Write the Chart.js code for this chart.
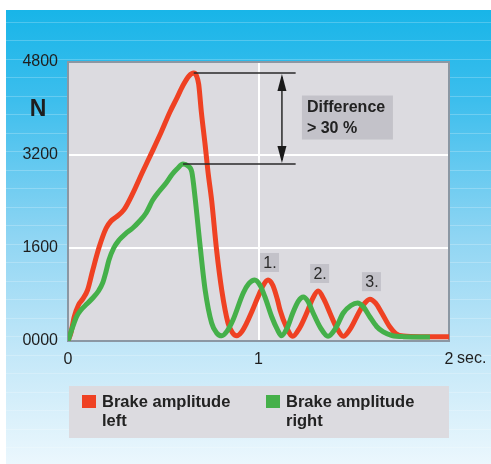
<!DOCTYPE html>
<html>
<head>
<meta charset="utf-8">
<script src="https://cdn.jsdelivr.net/npm/chart.js@4"></script>
<style>
  html, body { margin: 0; padding: 0; background: #fff; }
  canvas { display: block; }
</style>
</head>
<body>
<canvas id="brakeChart" width="491" height="464"></canvas>
<script>
// Data (time in seconds, force in N)
const timesLeft = [0, 0.016, 0.033, 0.055, 0.077, 0.103, 0.13, 0.164, 0.2, 0.225, 0.252, 0.294, 0.34, 0.39, 0.445, 0.49, 0.535, 0.57, 0.604, 0.635, 0.66, 0.675, 0.686, 0.70, 0.72, 0.735, 0.754, 0.78, 0.807, 0.84, 0.862, 0.886, 0.91, 0.938, 0.967, 0.997, 1.025, 1.05, 1.075, 1.10, 1.113, 1.145, 1.18, 1.215, 1.253, 1.283, 1.313, 1.343, 1.375, 1.41, 1.445, 1.48, 1.515, 1.55, 1.585, 1.615, 1.647, 1.69, 1.72, 1.76, 1.85, 2.0];
const brakeLeft = [0, 150, 420, 620, 720, 880, 1220, 1620, 1940, 2060, 2130, 2260, 2540, 2900, 3280, 3600, 3940, 4170, 4400, 4560, 4610, 4560, 4420, 3940, 3370, 2907, 2420, 1565, 877, 310, 150, 90, 150, 310, 520, 757, 960, 1050, 960, 705, 533, 250, 80, 220, 482, 720, 860, 720, 482, 230, 80, 200, 413, 620, 720, 650, 482, 240, 130, 85, 75, 75];
const timesRight = [0, 0.025, 0.045, 0.068, 0.1, 0.13, 0.16, 0.182, 0.2, 0.215, 0.24, 0.268, 0.3, 0.34, 0.375, 0.41, 0.445, 0.48, 0.515, 0.545, 0.572, 0.604, 0.63, 0.65, 0.667, 0.693, 0.72, 0.754, 0.78, 0.807, 0.835, 0.866, 0.92, 0.95, 0.98, 1.008, 1.034, 1.07, 1.1, 1.12, 1.15, 1.18, 1.21, 1.235, 1.26, 1.287, 1.325, 1.365, 1.405, 1.445, 1.485, 1.52, 1.55, 1.585, 1.62, 1.655, 1.7, 1.76, 1.9];
const brakeRight = [0, 246, 420, 533, 640, 740, 860, 998, 1200, 1393, 1600, 1737, 1840, 1944, 2060, 2202, 2425, 2580, 2718, 2860, 2958, 3045, 3010, 2907, 2470, 1650, 877, 310, 140, 90, 170, 361, 826, 990, 1050, 960, 757, 413, 190, 90, 220, 482, 690, 757, 680, 482, 230, 80, 220, 482, 610, 654, 590, 413, 250, 155, 95, 75, 70];
const yTicks = [0, 1600, 3200, 4800];
const xTicks = [0, 1, 2];
const peakLabels = ['1.', '2.', '3.'];
const peakTimes = [1.05, 1.313, 1.585];
const legendLabels = [['Brake amplitude', 'left'], ['Brake amplitude', 'right']];

const RED = '#ef4123';
const GREEN = '#45b04a';
const FONT = '"Liberation Sans", Arial, sans-serif';

function toPoints(xs, ys) {
    return xs.map((t, i) => ({ x: t, y: ys[i] }));
}

// Page background, plot background and frame
const backgroundPlugin = {
    id: 'backgroundPlugin',
    beforeDraw(chart) {
        const ctx = chart.ctx;
        const area = chart.chartArea;
        ctx.save();
        ctx.fillStyle = '#fff';
        ctx.fillRect(0, 0, chart.width, chart.height);
        const g = ctx.createLinearGradient(0, 10, 0, chart.height);
        g.addColorStop(0, '#18b5e8');
        g.addColorStop(0.2, '#3dbeed');
        g.addColorStop(0.5, '#8fd5f3');
        g.addColorStop(0.75, '#c2e7f8');
        g.addColorStop(1, '#ebf7fd');
        ctx.fillStyle = g;
        ctx.fillRect(6, 10, chart.width - 6, chart.height - 10);
        // faint stripes
        ctx.strokeStyle = 'rgba(255,255,255,0.22)';
        ctx.lineWidth = 1;
        for (let yy = 21.5; yy < chart.height; yy += 18.5) {
            ctx.beginPath();
            ctx.moveTo(6, Math.round(yy) + 0.5);
            ctx.lineTo(chart.width, Math.round(yy) + 0.5);
            ctx.stroke();
        }
        ctx.fillStyle = '#dcdbe0';
        ctx.fillRect(area.left, area.top, area.right - area.left, area.bottom - area.top);
        ctx.restore();
    },
    beforeDatasetsDraw(chart) {
        const ctx = chart.ctx;
        const area = chart.chartArea;
        ctx.save();
        ctx.strokeStyle = '#8b97a3';
        ctx.lineWidth = 2;
        ctx.strokeRect(area.left, area.top, area.right - area.left, area.bottom - area.top);
        ctx.restore();
    }
};

function arrowHead(ctx, x, yTip, dir) {
    ctx.beginPath();
    ctx.moveTo(x, yTip);
    ctx.lineTo(x - 4.5, yTip + dir * 17);
    ctx.lineTo(x + 4.5, yTip + dir * 17);
    ctx.closePath();
    ctx.fill();
}

// Difference arrows, peak numbers, N, sec. and legend
const annotationPlugin = {
    id: 'annotationPlugin',
    afterDraw(chart) {
        const ctx = chart.ctx;
        const x = chart.scales.x;
        const y = chart.scales.y;
        const area = chart.chartArea;

        const iL = brakeLeft.indexOf(Math.max(...brakeLeft));
        const iR = brakeRight.indexOf(Math.max(...brakeRight));
        const yTop = y.getPixelForValue(brakeLeft[iL]);
        const yBot = y.getPixelForValue(brakeRight[iR]);
        const xEnd = x.getPixelForValue(1.195);
        const xArrow = x.getPixelForValue(1.123);

        ctx.save();
        ctx.strokeStyle = '#2a2a2a';
        ctx.fillStyle = '#1a1a1a';
        ctx.lineWidth = 1.5;
        ctx.beginPath();
        ctx.moveTo(x.getPixelForValue(timesLeft[iL]), yTop);
        ctx.lineTo(xEnd, yTop);
        ctx.moveTo(x.getPixelForValue(timesRight[iR]), yBot);
        ctx.lineTo(xEnd, yBot);
        ctx.moveTo(xArrow, yTop + 4);
        ctx.lineTo(xArrow, yBot - 4);
        ctx.stroke();
        arrowHead(ctx, xArrow, yTop + 1, 1);
        arrowHead(ctx, xArrow, yBot - 1, -1);

        // Difference box
        const bx = xArrow + 20, bw = 91, bh = 44;
        const by = (yTop + yBot) / 2 - bh / 2 - 1;
        ctx.fillStyle = '#c3c2c9';
        ctx.fillRect(bx, by, bw, bh);
        ctx.fillStyle = '#222';
        ctx.font = 'bold 16px ' + FONT;
        ctx.textAlign = 'left';
        ctx.textBaseline = 'alphabetic';
        ctx.fillText('Difference', bx + 5, by + 16);
        ctx.fillText('> 30 %', bx + 5, by + 37);

        // Peak numbers
        ctx.font = '16px ' + FONT;
        ctx.textAlign = 'center';
        peakLabels.forEach((lab, k) => {
            const i = timesLeft.indexOf(peakTimes[k]);
            const px = x.getPixelForValue(peakTimes[k]);
            const py = y.getPixelForValue(brakeLeft[i]);
            ctx.fillStyle = '#c3c2c9';
            ctx.fillRect(px - 8, py - 27, 19, 19);
            ctx.fillStyle = '#2a2a2a';
            ctx.fillText(lab, px + 2, py - 12);
        });

        // Axis unit labels
        ctx.fillStyle = '#1e1e1e';
        ctx.font = 'bold 23px ' + FONT;
        ctx.textAlign = 'center';
        ctx.fillText('N', 38, 116);
        ctx.font = '16px ' + FONT;
        ctx.textAlign = 'left';
        ctx.fillText('sec.', area.right + 8, 363);

        // Legend
        const lx = area.left + 1, ly = 386;
        ctx.fillStyle = '#dcdbe0';
        ctx.fillRect(lx, ly, area.right - lx, 52);
        const colors = [RED, GREEN];
        const offsets = [13, 197];
        ctx.font = 'bold 16.5px ' + FONT;
        legendLabels.forEach((lines, k) => {
            ctx.fillStyle = colors[k];
            ctx.fillRect(lx + offsets[k], ly + 9, 14, 13);
            ctx.fillStyle = '#222';
            lines.forEach((t, j) => {
                ctx.fillText(t, lx + offsets[k] + 20, ly + 21 + j * 19);
            });
        });
        ctx.restore();
    }
};

const ctx = document.getElementById('brakeChart').getContext('2d');
new Chart(ctx, {
    type: 'line',
    data: {
        datasets: [
            {
                label: 'Brake amplitude right',
                data: toPoints(timesRight, brakeRight),
                borderColor: GREEN,
                borderWidth: 5,
                pointRadius: 0,
                cubicInterpolationMode: 'monotone',
                fill: false
            },
            {
                label: 'Brake amplitude left',
                data: toPoints(timesLeft, brakeLeft),
                borderColor: RED,
                borderWidth: 5,
                pointRadius: 0,
                cubicInterpolationMode: 'monotone',
                fill: false
            }
        ]
    },
    options: {
        responsive: false,
        animation: false,
        devicePixelRatio: 1,
        layout: { padding: { top: 62, right: 42, left: 0, bottom: 0 } },
        plugins: {
            legend: { display: false },
            tooltip: { enabled: false }
        },
        scales: {
            x: {
                type: 'linear',
                min: 0,
                max: 2,
                afterBuildTicks(scale) { scale.ticks = xTicks.map(v => ({ value: v })); },
                afterFit(scale) { scale.height = 123; },
                border: { display: false },
                grid: {
                    drawTicks: false,
                    lineWidth: 2,
                    color: c => (c.tick && c.tick.value === 1 ? '#ffffff' : 'transparent')
                },
                ticks: {
                    color: '#1e1e1e',
                    padding: 9,
                    maxRotation: 0,
                    font: { family: FONT, size: 16 }
                }
            },
            y: {
                min: 0,
                max: 4800,
                afterBuildTicks(scale) { scale.ticks = yTicks.map(v => ({ value: v })); },
                afterFit(scale) { scale.width = 68; },
                border: { display: false },
                grid: {
                    drawTicks: false,
                    lineWidth: 2,
                    color: c => (c.tick && (c.tick.value === 1600 || c.tick.value === 3200) ? '#ffffff' : 'transparent')
                },
                ticks: {
                    color: '#1e1e1e',
                    padding: 10,
                    font: { family: FONT, size: 16 },
                    callback: v => (v === 0 ? '0000' : String(v))
                }
            }
        }
    },
    plugins: [backgroundPlugin, annotationPlugin]
});
</script>
</body>
</html>
